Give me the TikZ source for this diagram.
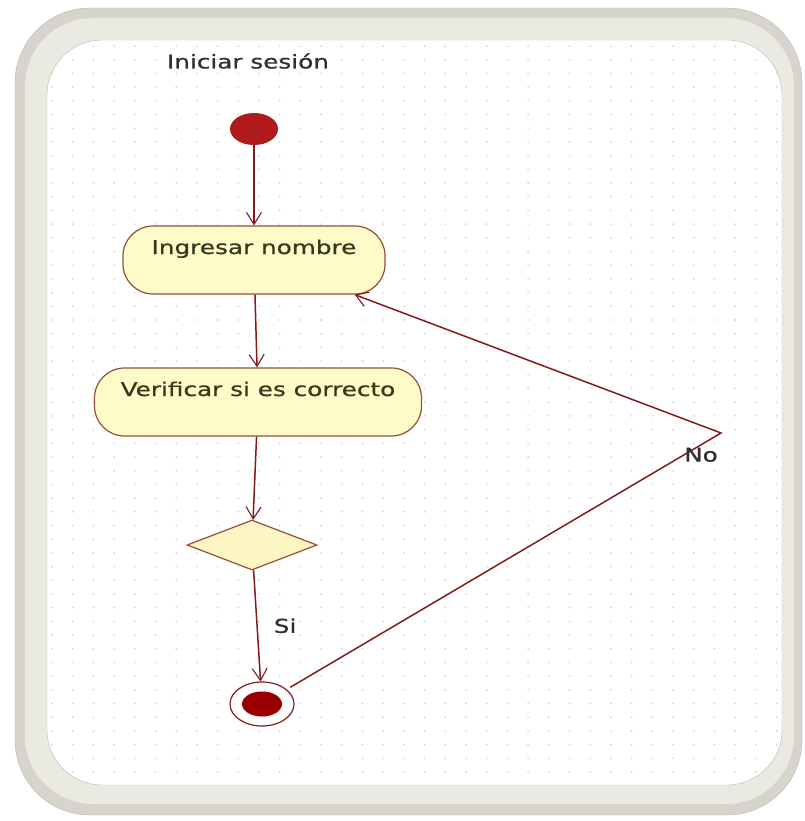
\documentclass[tikz,border=0pt]{standalone}
\usepackage{fontspec}
\setmainfont{DejaVu Sans}[FakeBold=0.6]
\usetikzlibrary{shapes.geometric, arrows.meta, positioning}

\definecolor{linered}{HTML}{7F1D1D}
\definecolor{startred}{HTML}{B01A1A}
\definecolor{endred}{HTML}{9A0000}
\definecolor{actfill}{HTML}{FEFBC9}
\definecolor{actdraw}{HTML}{94503A}
\definecolor{decfill}{HTML}{FEF6C2}
\definecolor{frameout}{HTML}{D6D4CC}
\definecolor{framein}{HTML}{EAE9E2}
\definecolor{frameline}{HTML}{B9B7AF}
\definecolor{dotgray}{HTML}{CFCFCF}
\definecolor{textgray}{HTML}{2F2F2F}
\definecolor{acttext}{HTML}{353A1C}

\newcommand{\wide}[1]{\scalebox{1.3}[1]{#1}}

\begin{document}
\begin{tikzpicture}[x=1pt, y=-1pt,
    font=\fontsize{19}{21}\selectfont,
    activity/.style={rectangle, draw=actdraw, fill=actfill, line width=1.2pt, rounded corners=30pt, minimum height=68pt, inner sep=0pt, text height=14pt, text depth=26pt, text=acttext},
    decision/.style={diamond, draw=actdraw, fill=decfill, line width=1.2pt, minimum width=130pt, minimum height=50pt, inner sep=0pt},
    initial/.style={ellipse, fill=startred, minimum width=48pt, minimum height=32pt, inner sep=0pt},
    finalstate/.style={ellipse, draw=linered, line width=1.2pt, fill=white, minimum width=64pt, minimum height=44pt, inner sep=0pt,
        path picture={\fill[endred] (path picture bounding box.center) ellipse (20pt and 12.5pt);}},
    edgetext/.style={text=textgray, inner sep=0pt},
    arrow/.style={draw=linered, line width=1.5pt, -{Straight Barb[length=12pt, width=15pt, line width=1.1pt]}}
]
\useasboundingbox (0,0) rectangle (804,821);

% frame
\fill[frameout, draw=frameline, rounded corners=75pt] (15,8) rectangle (802,815);
\fill[framein, rounded corners=68pt] (25,18) rectangle (794,804);
\filldraw[fill=white, draw=frameline, rounded corners=55pt] (47,40) rectangle (782,785);
\begin{scope}
  \clip[rounded corners=55pt] (47,40) rectangle (782,785);
  \foreach \gx in {52,72.7,...,782}
    \foreach \gy in {46,59.7,...,785}
      \fill[dotgray] (\gx,\gy) circle (0.9pt);
\end{scope}

\node[edgetext] (titulo) at (248,61) {\wide{Iniciar sesión}};

\node[initial] (inicio) at (254,129) {};
\node[activity, minimum width=262pt] (ingresar) at (254,260) {\wide{Ingresar nombre}};
\node[activity, minimum width=327pt] (verificar) at (258,402) {\wide{Verificar si es correcto}};
\node[decision] (decision) at (252,545) {};
\node[finalstate] (fin) at (262,704) {};
\coordinate (codo) at (721,433);

\draw[arrow] (inicio) -- (ingresar);
\draw[arrow] (ingresar) -- (verificar);
\draw[arrow] (verificar) -- (decision);
\draw[arrow] (decision) -- node[midway, right=16pt, edgetext] {\wide{Si}} (fin);
\draw[arrow, shorten <=4pt] (fin) -- (codo) node[below=14pt, xshift=-20pt, edgetext] {\wide{No}}
    -- ([xshift=-31pt]ingresar.south east);

\end{tikzpicture}
\end{document}
